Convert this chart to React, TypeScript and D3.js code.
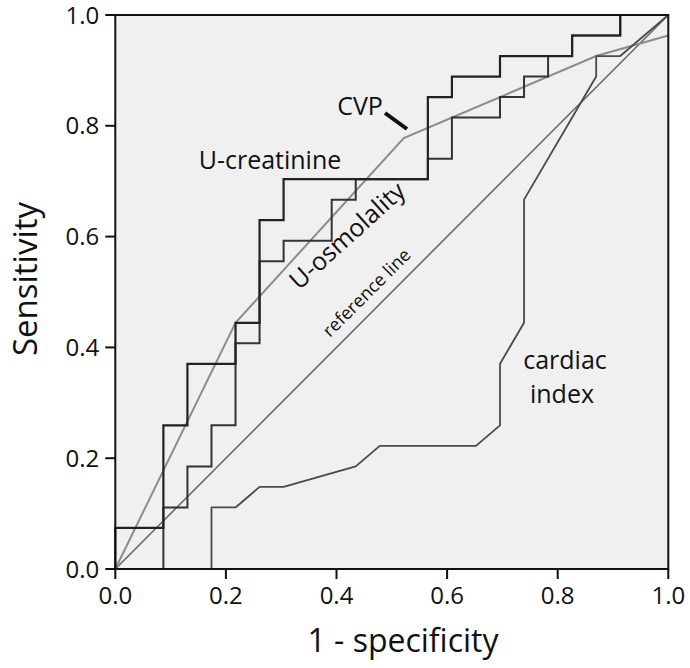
import React from "react";
import * as d3 from "d3";

// ROC coordinates: x in units of 1/23 (1 - specificity), y in units of 1/27 (sensitivity)
const N_NEG = 23;
const N_POS = 27;

const creatinineX = [0, 0, 2, 2, 3, 3, 5, 5, 6, 6, 7, 7, 13, 13, 14, 14, 16, 16, 19, 19, 21, 21, 23];
const creatinineY = [0, 2, 2, 7, 7, 10, 10, 12, 12, 17, 17, 19, 19, 23, 23, 24, 24, 25, 25, 26, 26, 27, 27];

const osmolalityX = [0, 2, 2, 3, 3, 4, 4, 5, 5, 6, 6, 7, 7, 9, 9, 10, 10, 13, 13, 14, 14, 16, 16, 17, 17, 18, 18, 19, 19, 21, 21, 23];
const osmolalityY = [0, 0, 3, 3, 5, 5, 7, 7, 11, 11, 15, 15, 16, 16, 18, 18, 19, 19, 20, 20, 22, 22, 23, 23, 24, 24, 25, 25, 26, 26, 27, 27];

const cardiacX = [4, 4, 5, 6, 7, 10, 11, 15, 16, 16, 17, 17, 20, 20, 21, 23];
const cardiacY = [0, 3, 3, 4, 4, 5, 6, 6, 7, 10, 12, 18, 24, 25, 25, 27];

const cvpX = [0, 5, 12, 20, 23];
const cvpY = [0, 12, 21, 25, 26];

const referenceX = [0, 1];
const referenceY = [0, 1];

const ticks = [0, 0.2, 0.4, 0.6, 0.8, 1.0];
const tickLabels = ["0.0", "0.2", "0.4", "0.6", "0.8", "1.0"];

const FONT = "'Open Sans', 'Noto Sans', sans-serif";

export default function App() {
  const x = d3.scaleLinear().domain([0, 1]).range([115.3, 668.3]);
  const y = d3.scaleLinear().domain([0, 1]).range([569, 15]);

  const toPts = (xs: number[], ys: number[], dx: number, dy: number) =>
    xs.map((v, i) => [v / dx, ys[i] / dy] as [number, number]);

  const line = d3
    .line<[number, number]>()
    .x((d) => x(d[0]))
    .y((d) => y(d[1]));

  const creat = toPts(creatinineX, creatinineY, N_NEG, N_POS);
  const osm = toPts(osmolalityX, osmolalityY, N_NEG, N_POS);
  const card = toPts(cardiacX, cardiacY, N_NEG, N_POS);
  const cvp = toPts(cvpX, cvpY, N_NEG, N_POS);
  const ref = toPts(referenceX, referenceY, 1, 1);

  return (
    <svg
      width={690}
      height={668}
      style={{ position: "absolute", left: 0, top: 0, background: "#fff" }}
      fontFamily={FONT}
    >
      <rect x={x(0)} y={y(1)} width={x(1) - x(0)} height={y(0) - y(1)} fill="#f0f0f0" />

      <path d={line(ref) || ""} fill="none" stroke="#6a6a6a" strokeWidth={1.6} />
      <path d={line(cvp) || ""} fill="none" stroke="#8c8c8c" strokeWidth={2} />
      <path d={line(card) || ""} fill="none" stroke="#4a4a4a" strokeWidth={1.8} strokeLinejoin="round" />
      <path d={line(osm) || ""} fill="none" stroke="#333" strokeWidth={2} />
      <path d={line(creat) || ""} fill="none" stroke="#222" strokeWidth={2.2} />

      {/* frame */}
      <rect
        x={x(0)}
        y={y(1)}
        width={x(1) - x(0)}
        height={y(0) - y(1)}
        fill="none"
        stroke="#111"
        strokeWidth={2}
      />

      {/* y ticks */}
      {ticks.map((t, i) => (
        <g key={"y" + i}>
          <line x1={x(0) - 10} x2={x(0)} y1={y(t)} y2={y(t)} stroke="#111" strokeWidth={2} />
          <text x={x(0) - 16} y={y(t)} dy="0.36em" textAnchor="end" fontSize={24} fill="#111">
            {tickLabels[i]}
          </text>
        </g>
      ))}
      {/* x ticks */}
      {ticks.map((t, i) => (
        <g key={"x" + i}>
          <line x1={x(t)} x2={x(t)} y1={y(0)} y2={y(0) + 10} stroke="#111" strokeWidth={2} />
          <text x={x(t)} y={604} textAnchor="middle" fontSize={24} fill="#111">
            {tickLabels[i]}
          </text>
        </g>
      ))}

      {/* axis titles */}
      <text x={403} y={652} textAnchor="middle" fontSize={32} fill="#111">
        1 - specificity
      </text>
      <text
        transform="translate(37,279) rotate(-90)"
        textAnchor="middle"
        fontSize={33}
        fill="#111"
      >
        Sensitivity
      </text>

      {/* annotations */}
      <text x={270} y={169} textAnchor="middle" fontSize={25} fill="#111">
        U-creatinine
      </text>
      <text x={360} y={115} textAnchor="middle" fontSize={25} fill="#111">
        CVP
      </text>
      <line x1={385} y1={113} x2={407} y2={129} stroke="#111" strokeWidth={4} />
      <text
        transform="translate(353,242) rotate(-42)"
        textAnchor="middle"
        fontSize={25}
        fill="#111"
      >
        U-osmolality
      </text>
      <text
        transform="translate(371,297) rotate(-45)"
        textAnchor="middle"
        fontSize={18}
        fill="#111"
      >
        reference line
      </text>
      <text x={565} y={369} textAnchor="middle" fontSize={25} fill="#111">
        cardiac
      </text>
      <text x={562} y={403} textAnchor="middle" fontSize={25} fill="#111">
        index
      </text>
    </svg>
  );
}
